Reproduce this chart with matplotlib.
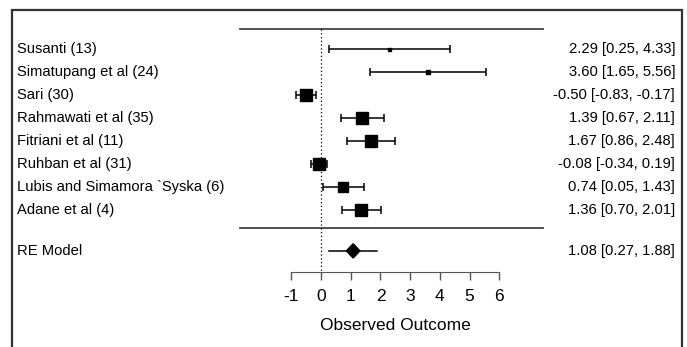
import numpy as np
import matplotlib.pyplot as plt
from matplotlib.patches import Polygon, Rectangle

plt.rcParams['font.family'] = ['Liberation Sans', 'DejaVu Sans']

studies = ['Susanti (13)', 'Simatupang et al (24)', 'Sari (30)', 'Rahmawati et al (35)',
           'Fitriani et al (11)', 'Ruhban et al (31)', 'Lubis and Simamora `Syska (6)', 'Adane et al (4)']
est = [2.29, 3.60, -0.50, 1.39, 1.67, -0.08, 0.74, 1.36]
lo = [0.25, 1.65, -0.83, 0.67, 0.86, -0.34, 0.05, 0.70]
hi = [4.33, 5.56, -0.17, 2.11, 2.48, 0.19, 1.43, 2.01]
re_est, re_lo, re_hi = 1.08, 0.27, 1.88
xticks = [-1, 0, 1, 2, 3, 4, 5, 6]

# square sizes in px (study weights)
box_px = [3, 5, 12.5, 11.5, 12, 12, 10.5, 11.5]

fig = plt.figure(figsize=(6.87, 3.47), dpi=100)
ax = fig.add_axes([0, 0, 1, 1])
ax.set_xlim(-10.81, 12.32)
ax.set_ylim(-4.96, 10.13)

rows = np.arange(len(studies), 0, -1)
line_col = '#444444'
fs = 10.6
x_left, x_right = -10.24, 11.92

for i in range(len(studies)):
    y = rows[i]
    ax.errorbar(est[i], y, xerr=[[est[i] - lo[i]], [hi[i] - est[i]]], fmt='none',
                ecolor='black', elinewidth=1.1, capsize=3.2, capthick=1.1)
    ax.plot(est[i], y, marker='s', color='black', markersize=box_px[i] * 0.72, zorder=3)
    ax.text(x_left, y, studies[i], ha='left', va='center', fontsize=fs)
    ax.text(x_right, y, '%.2f [%.2f, %.2f]' % (est[i], lo[i], hi[i]), ha='right', va='center', fontsize=fs)

# RE model
y_re = -0.78
ax.plot([re_lo, re_hi], [y_re, y_re], color='black', lw=1.1)
dx, dy = 0.23, 0.31
ax.add_patch(Polygon([[re_est - dx, y_re], [re_est, y_re + dy], [re_est + dx, y_re], [re_est, y_re - dy]],
                     closed=True, color='black', zorder=3))
ax.text(x_left, y_re, 'RE Model', ha='left', va='center', fontsize=fs)
ax.text(x_right, y_re, '%.2f [%.2f, %.2f]' % (re_est, re_lo, re_hi), ha='right', va='center', fontsize=fs)

# separators and reference line
ax.plot([-2.73, 7.47], [8.87, 8.87], color=line_col, lw=1.3)
ax.plot([-2.73, 7.47], [0.217, 0.217], color=line_col, lw=1.3)
ax.plot([0, 0], [8.87, -1.72], color='black', lw=0.9, ls=(0, (1, 2)))

# x axis
for s in ['top', 'right', 'left']:
    ax.spines[s].set_visible(False)
ax.spines['bottom'].set_position(('data', -1.72))
ax.spines['bottom'].set_bounds(-1, 6)
ax.spines['bottom'].set_color('#555555')
ax.set_xticks(xticks)
ax.set_xticklabels([str(t) for t in xticks])
ax.tick_params(axis='x', direction='out', length=5.5, width=1, color='#555555', labelsize=12.5, pad=6.5)
ax.set_yticks([])
ax.text(2.5, -4.04, 'Observed Outcome', ha='center', va='center', fontsize=12.5)

# outer frame
fig.patches.append(Rectangle((0.017, -0.05), 0.976, 1.021, transform=fig.transFigure,
                             fill=False, edgecolor='#333333', lw=1.6))

fig.savefig('out.png', dpi=100)
